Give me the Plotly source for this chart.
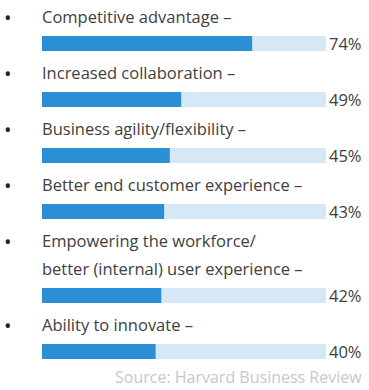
import plotly.graph_objects as go

labels = [
    ["Competitive advantage –"],
    ["Increased collaboration –"],
    ["Business agility/flexibility –"],
    ["Better end customer experience –"],
    ["Empowering the workforce/", "better (internal) user experience –"],
    ["Ability to innovate –"],
]
values = [74, 49, 45, 43, 42, 40]
source = "Source: Harvard Business Review"

W, H = 369, 390
LINE = 28
BAR_H = 15
DARK = "#2a8fd4"
LIGHT = "#d4e8f5"
TEXT = "#404040"
FONT = "Open Sans"

# compute row layout
cursor = 16
label_pos = []
bar_pos = []
for lines in labels:
    ys = []
    for _ in lines:
        ys.append(cursor)
        cursor += LINE
    label_pos.append(ys)
    bar_pos.append(cursor - 0.5)
    cursor += 28

fig = go.Figure()
fig.add_trace(go.Bar(x=[100] * len(values), y=bar_pos, orientation="h", width=BAR_H,
                     marker=dict(color=LIGHT, line=dict(width=0)), hoverinfo="skip"))
fig.add_trace(go.Bar(x=values, y=bar_pos, orientation="h", width=BAR_H,
                     marker=dict(color=DARK, line=dict(width=0)), hoverinfo="skip"))

ann = []
for lines, ys, b, v in zip(labels, label_pos, bar_pos, values):
    ann.append(dict(text="•", x=8 / W, xref="paper", y=ys[0] + 1, yref="y", xanchor="center",
                    yanchor="middle", showarrow=False, font=dict(family=FONT, size=20, color="#222222")))
    for t, yy in zip(lines, ys):
        ann.append(dict(text=t, x=40 / W, xref="paper", y=yy, yref="y", xanchor="left",
                        yanchor="middle", showarrow=False, font=dict(family=FONT, size=16.5, color=TEXT)))
    ann.append(dict(text=f"{v}%", x=327 / W, xref="paper", y=b, yref="y", xanchor="left",
                    yanchor="middle", showarrow=False, font=dict(family=FONT, size=16.5, color=TEXT)))
ann.append(dict(text=source, x=364 / W, xref="paper", y=377, yref="y", xanchor="right",
                yanchor="middle", showarrow=False, font=dict(family=FONT, size=16, color="#c8c8c8")))

fig.update_layout(
    width=W, height=H, margin=dict(l=0, r=0, t=0, b=0),
    paper_bgcolor="white", plot_bgcolor="white",
    barmode="overlay", showlegend=False, annotations=ann,
    xaxis=dict(domain=[42 / W, 326 / W], range=[0, 100], visible=False, fixedrange=True),
    yaxis=dict(range=[H, 0], visible=False, fixedrange=True),
)
fig.write_html("out.html", config={"displayModeBar": False},
               post_script="document.body.style.margin='0';document.body.style.overflow='hidden';")
